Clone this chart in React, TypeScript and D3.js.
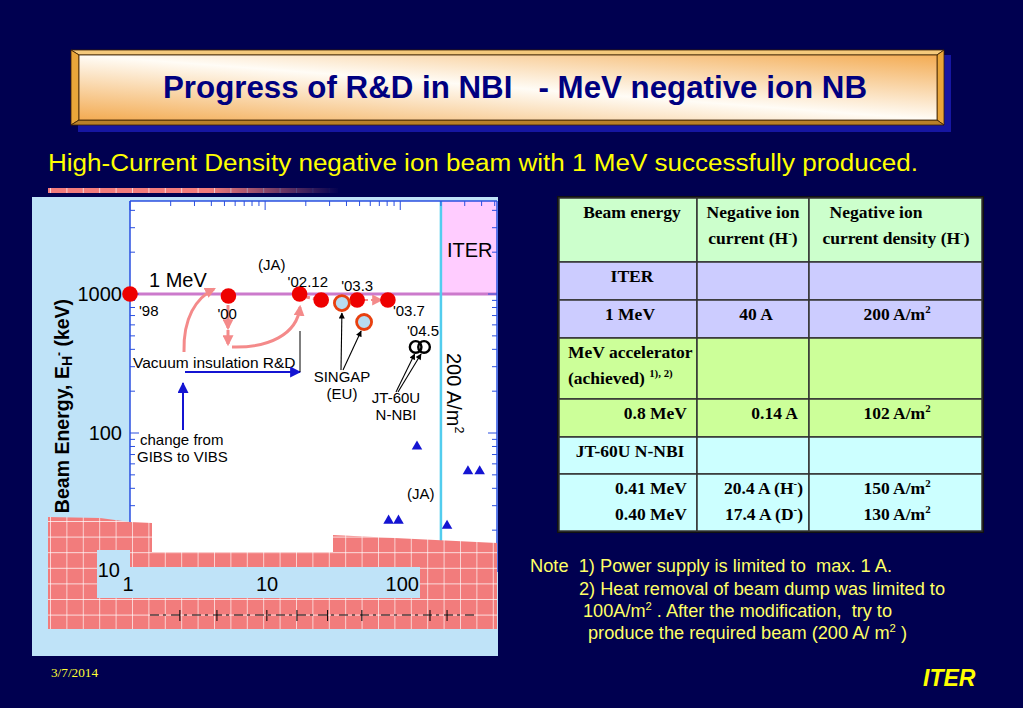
import * as d3 from "d3";
import React from "react";

// beam energy (keV) vs negative ion current density (A/m2)
const mevLabels = ["'98", "'00", "'02.12", "", "'03.3", "'03.7"];
const mevDensity = [1, 5.35, 18, 26, 48, 81];
const mevEnergy = [1000, 967, 1000, 905, 905, 905];
const singapDensity = [37, 54];
const singapEnergy = [861, 629];
const jt60Density = [130, 150];
const jt60Energy = [416, 416];
const otherDensity = [133, 317, 387, 82, 97, 222];
const otherEnergy = [80, 53, 53, 23.4, 23.4, 21.5];
const iterDensity = 200;
const iterEnergy = 1000;
const xTickLabels = [1, 10, 100];
const yTickLabels = [100, 1000];
const brokenAxisTicks = [2.34, 4.4, 10.3, 17.2, 29, 52, 166, 222];

// table
const tableHead = ["Beam energy", "Negative ion\ncurrent (H^{-})", "Negative ion\ncurrent density (H^{-})"];
const tableEnergy = ["ITER", "1 MeV", "MeV accelerator\n(achieved) ^{1), 2)}", "0.8 MeV", "JT-60U N-NBI", "0.41 MeV\n0.40 MeV"];
const tableCurrent = ["", "40 A", "", "0.14 A", "", "20.4 A (H^{-})\n17.4 A (D^{-})"];
const tableDensity = ["", "200 A/m^{2}", "", "102 A/m^{2}", "", "150 A/m^{2}\n130 A/m^{2}"];
const tableGroup = ["iter", "iter", "mev", "mev", "jt", "jt"];

const notes = [
  "Note  1) Power supply is limited to  max. 1 A.",
  "2) Heat removal of beam dump was limited to",
  "100A/m^{2} . After the modification,  try to",
  "produce the required beam (200 A/ m^{2} )",
];

const NAVY = "#000050";
const SALMON = "#f48a8a";

function Rich({ s, size }: { s: string; size: number }) {
  const parts = s.split(/(\^\{[^}]*\})/).filter((p) => p.length);
  let prevSup = false;
  return (
    <>
      {parts.map((p, i) => {
        if (p.startsWith("^{")) {
          prevSup = true;
          return (
            <tspan key={i} fontSize={size * 0.62} dy={-size * 0.38}>
              {p.slice(2, -1)}
            </tspan>
          );
        }
        const dy = prevSup ? size * 0.38 : 0;
        prevSup = false;
        return (
          <tspan key={i} dy={dy}>
            {p}
          </tspan>
        );
      })}
    </>
  );
}

export default function App() {
  const x = d3.scaleLog().domain([1, 520]).range([130, 497]);
  const y = d3.scaleLog().domain([10, 4670]).range([572, 201]);
  const [px0, px1] = x.range();
  const [pyB, pyT] = y.range();
  const isMajor = (v: number) => Math.abs(Math.log10(v) - Math.round(Math.log10(v))) < 1e-6;
  const yTicks = y.ticks();
  const xTicks = x.ticks();

  // table layout
  const rowEdges = [198, 262, 300, 338, 399, 437, 474, 531];
  const colEdges = [559, 697, 809, 982];
  const groupFill: Record<string, string> = { iter: "#ccccff", mev: "#ccff99", jt: "#ccffff" };
  const align: [string, number][][] = [
    [["middle", 632], ["middle", 753], ["middle", 896]],
    [["middle", 632], ["middle", 753], ["middle", 896]],
    [["middle", 630], ["middle", 756], ["middle", 897]],
    [["start", 568], ["middle", 753], ["middle", 896]],
    [["end", 687], ["end", 798], ["middle", 897]],
    [["middle", 630], ["middle", 753], ["middle", 896]],
    [["end", 687], ["end", 803], ["middle", 897]],
  ];
  const tableRows = [tableHead, ...tableEnergy.map((e, i) => [e, tableCurrent[i], tableDensity[i]])];
  const fs = 17.5;

  const labelOffsets: [number, number, string][] = [
    [9, 22, "start"],
    [-11, 23, "start"],
    [-12, -7, "start"],
    [0, 0, "start"],
    [0, -9, "middle"],
    [5, 16, "start"],
  ];

  const noteX = [530, 579, 583, 588];
  const noteY = [572, 595, 617, 639];
  const noteW = [362, 366, 309, 319];

  const tri = d3.symbol(d3.symbolTriangle, 48)();

  return (
    <svg width={1023} height={708} style={{ position: "absolute", left: 0, top: 0, display: "block" }}
      fontFamily="'Liberation Sans', Arial, sans-serif">
      <defs>
        <linearGradient id="titleFill" x1="0" y1="1" x2="1" y2="0">
          <stop offset="0" stopColor="#f3ab52" />
          <stop offset="0.5" stopColor="#fffcf6" />
          <stop offset="1" stopColor="#f3ab52" />
        </linearGradient>
        <linearGradient id="stripFade" x1="0" y1="0" x2="1" y2="0">
          <stop offset="0.55" stopColor={NAVY} stopOpacity="0" />
          <stop offset="1" stopColor={NAVY} stopOpacity="1" />
        </linearGradient>
        <pattern id="tiles" patternUnits="userSpaceOnUse" x={50} y={521} width={16.4} height={15.6}>
          <rect width={16.4} height={15.6} fill="#f27c7c" />
          <path d="M0,0H16.4M0,0V15.6" stroke="#fff" strokeWidth={1.3} />
        </pattern>
        <marker id="arrSalmon" viewBox="0 0 10 10" refX="8" refY="5" markerWidth="11" markerHeight="11"
          markerUnits="userSpaceOnUse" orient="auto">
          <path d="M0,0L10,5L0,10z" fill={SALMON} />
        </marker>
        <marker id="arrBlue" viewBox="0 0 10 10" refX="9" refY="5" markerWidth="13" markerHeight="11"
          markerUnits="userSpaceOnUse" orient="auto">
          <path d="M0,0L10,5L0,10z" fill="#1414d2" />
        </marker>
        <marker id="arrBlack" viewBox="0 0 10 10" refX="9" refY="5" markerWidth="7" markerHeight="6"
          markerUnits="userSpaceOnUse" orient="auto">
          <path d="M0,0L10,5L0,10z" fill="#000" />
        </marker>
      </defs>

      <rect width={1023} height={708} fill={NAVY} />

      {/* title box */}
      <rect x={78} y={55} width={873} height={77} fill="#1616a2" />
      <polygon points="71,50 944,50 937,55 79,55" fill="#f4c97c" stroke="#3a2000" strokeWidth={0.8} />
      <polygon points="71,50 79,55 79,120 71,125" fill="#e9a63a" stroke="#3a2000" strokeWidth={0.8} />
      <polygon points="944,50 944,125 937,120 937,55" fill="#e9a63a" stroke="#3a2000" strokeWidth={0.8} />
      <polygon points="71,125 944,125 937,120 79,120" fill="#b8802a" stroke="#3a2000" strokeWidth={0.8} />
      <rect x={79} y={55} width={858} height={65} fill="url(#titleFill)" stroke="#3a2000" strokeWidth={0.8} />
      <text x={163} y={98} fontSize={32} fontWeight="bold" fill="#000080" textLength={704}
        lengthAdjust="spacingAndGlyphs" style={{ whiteSpace: "pre" }}>
        {"Progress of R&D in NBI   - MeV negative ion NB"}
      </text>

      <text x={48} y={171} fontSize={23} fill="#ffff00" textLength={870} lengthAdjust="spacingAndGlyphs">
        High-Current Density negative ion beam with 1 MeV successfully produced.
      </text>

      {/* faded tile strip above the chart */}
      <rect x={48} y={188} width={290} height={5} fill="url(#tiles)" />
      <rect x={48} y={187} width={292} height={7} fill="url(#stripFade)" />

      {/* chart panel */}
      <rect x={32} y={197} width={466} height={459} fill="#bfe3f8" />
      <rect x={px0} y={pyT} width={px1 - px0} height={pyB - pyT} fill="#fff" />
      <rect x={x(iterDensity)} y={pyT} width={px1 - x(iterDensity)} height={y(iterEnergy) - pyT} fill="#ffccff" />
      <line x1={px0} x2={px1} y1={y(iterEnergy)} y2={y(iterEnergy)} stroke="#cc7acc" strokeWidth={3} />
      <line x1={x(iterDensity)} x2={x(iterDensity)} y1={pyT} y2={pyB} stroke="#52cdee" strokeWidth={2.5} />

      {/* ticks */}
      {yTicks.map((t) => {
        const L = isMajor(t) ? 9 : 5;
        return (
          <g key={"y" + t} stroke="#2a4fe0" strokeWidth={1}>
            <line x1={px0} x2={px0 + L} y1={y(t)} y2={y(t)} />
            <line x1={px1} x2={px1 - L} y1={y(t)} y2={y(t)} />
          </g>
        );
      })}
      {xTicks.map((t) => (
        <line key={"x" + t} x1={x(t)} x2={x(t)} y1={pyT} y2={pyT + (isMajor(t) ? 9 : 5)} stroke="#2a4fe0" />
      ))}
      <line x1={px0} x2={px0} y1={pyT} y2={pyB} stroke="#2a4fe0" strokeWidth={1.5} />
      <line x1={px1} x2={px1} y1={pyT} y2={pyB} stroke="#2a4fe0" strokeWidth={1.5} />
      <line x1={px0} x2={px1} y1={pyT} y2={pyT} stroke="#2a4fe0" strokeWidth={1.5} />

      {yTickLabels.map((t) => (
        <text key={t} x={122} y={y(t) + 7} fontSize={20} textAnchor="end">{t}</text>
      ))}

      <text transform="translate(69,406) rotate(-90)" fontSize={19.5} fontWeight="bold" textAnchor="middle">
        <tspan>Beam Energy, E</tspan>
        <tspan fontSize={14} dy={3}>H</tspan>
        <tspan fontSize={12} dy={-9}>-</tspan>
        <tspan dy={6}> (keV)</tspan>
      </text>

      {/* annotations */}
      <text x={149} y={287} fontSize={20}>1 MeV</text>
      <text x={258} y={270} fontSize={15}>(JA)</text>
      <text x={x(iterDensity) + 6} y={257} fontSize={20}>ITER</text>
      <text transform={`translate(${x(iterDensity) + 6},353) rotate(90)`} fontSize={20}>
        <Rich s="200 A/m^{2}" size={20} />
      </text>
      <text x={133} y={368} fontSize={15.5}>Vacuum insulation R&amp;D</text>
      <text x={140} y={445} fontSize={15}>change from</text>
      <text x={137} y={462} fontSize={15}>GIBS to VIBS</text>
      <text x={342} y={382} fontSize={15} textAnchor="middle">SINGAP</text>
      <text x={342} y={399} fontSize={15} textAnchor="middle">(EU)</text>
      <text x={396} y={403} fontSize={15} textAnchor="middle">JT-60U</text>
      <text x={396} y={420} fontSize={15} textAnchor="middle">N-NBI</text>
      <text x={407} y={499} fontSize={15}>(JA)</text>
      <text x={423} y={y(jt60Energy[0]) - 11} fontSize={15} textAnchor="middle">'04.5</text>

      {/* arrows */}
      <g fill="none" stroke={SALMON} strokeWidth={3}>
        <path d="M184,352 C183,318 196,298 214,289" markerEnd="url(#arrSalmon)" />
        <path d="M228,305 L228,328" markerEnd="url(#arrSalmon)" />
        <path d="M228,330 L228,344" markerEnd="url(#arrSalmon)" />
        <path d="M232,347 C268,348 297,335 300,307" markerEnd="url(#arrSalmon)" />
        <path d="M306,297 L316,299" strokeDasharray="4 3" />
        <path d="M363,300 L381,300" strokeDasharray="5 3" markerEnd="url(#arrSalmon)" strokeWidth={2} />
      </g>
      <line x1={185} x2={300} y1={372} y2={372} stroke="#1414d2" strokeWidth={2} markerEnd="url(#arrBlue)" />
      <line x1={183} x2={183} y1={430} y2={383} stroke="#1414d2" strokeWidth={2} markerEnd="url(#arrBlue)" />
      <line x1={300} x2={300} y1={331} y2={372} stroke="#000" strokeWidth={1} />
      <g stroke="#000" strokeWidth={1.1}>
        <line x1={341} y1={370} x2={x(singapDensity[0])} y2={y(singapEnergy[0]) + 10} markerEnd="url(#arrBlack)" />
        <line x1={343} y1={370} x2={x(singapDensity[1]) - 3} y2={y(singapEnergy[1]) + 9} markerEnd="url(#arrBlack)" />
        <line x1={396} y1={392} x2={x(jt60Density[0]) - 1} y2={y(jt60Energy[0]) + 7} markerEnd="url(#arrBlack)" />
        <line x1={398} y1={392} x2={x(jt60Density[1]) - 3} y2={y(jt60Energy[1]) + 7} markerEnd="url(#arrBlack)" />
      </g>

      {/* markers */}
      {mevDensity.map((d, i) => (
        <circle key={"m" + i} cx={x(d)} cy={y(mevEnergy[i])} r={7.8} fill="#ee0000" />
      ))}
      {mevLabels.map((l, i) =>
        l ? (
          <text key={"l" + i} x={x(mevDensity[i]) + labelOffsets[i][0]} y={y(mevEnergy[i]) + labelOffsets[i][1]}
            fontSize={15} textAnchor={labelOffsets[i][2]}>{l}</text>
        ) : null
      )}
      {singapDensity.map((d, i) => (
        <circle key={"s" + i} cx={x(d)} cy={y(singapEnergy[i])} r={7.5} fill="#b8dcf0" stroke="#e8400f" strokeWidth={2.8} />
      ))}
      {jt60Density.map((d, i) => (
        <circle key={"j" + i} cx={x(d)} cy={y(jt60Energy[i])} r={5.8} fill="none" stroke="#000" strokeWidth={2.4} />
      ))}
      {otherDensity.map((d, i) => (
        <path key={"t" + i} d={tri!} transform={`translate(${x(d)},${y(otherEnergy[i])})`} fill="#1414d2" />
      ))}

      {/* broken tile overlay */}
      <polygon points="48,517 100,518 130,522 152,523 152,552 333,552 333,535 497,543 497,629 48,629" fill="url(#tiles)" />
      <polygon points="97,550 130,550 130,567 420,567 420,598 97,598" fill="#bfe3f8" />
      <line x1={150} x2={477} y1={615} y2={615} stroke="#000" strokeWidth={1} strokeDasharray="9 4 3 5" />
      {brokenAxisTicks.map((t) => (
        <line key={"b" + t} x1={x(t)} x2={x(t)} y1={610} y2={621} stroke="#000" strokeWidth={1} />
      ))}
      <text x={120} y={577} fontSize={20} textAnchor="end">10</text>
      {xTickLabels.map((t) => (
        <text key={"xl" + t} x={x(t) - (t === 1 ? 2 : -2)} y={591} fontSize={20} textAnchor="middle">{t}</text>
      ))}

      {/* table */}
      <rect x={colEdges[0] - 2} y={rowEdges[0] - 2} width={colEdges[3] - colEdges[0] + 4}
        height={rowEdges[7] - rowEdges[0] + 4} fill="#111" />
      {tableRows.map((row, r) => {
        const top = rowEdges[r];
        const h = rowEdges[r + 1] - top;
        const fill = r === 0 ? "#ccffcc" : groupFill[tableGroup[r - 1]];
        return (
          <g key={"r" + r}>
            {row.map((cell, c) => (
              <rect key={c} x={colEdges[c]} y={top} width={colEdges[c + 1] - colEdges[c]} height={h}
                fill={fill} stroke="#333" strokeWidth={1.5} />
            ))}
          </g>
        );
      })}
      {tableRows.map((row, r) =>
        row.map((cell, c) => {
          const [anchor, cx] = align[r][c];
          return cell
            .split("\n")
            .filter((s) => s.length)
            .map((line, k) => (
              <text key={`c${r}-${c}-${k}`} x={r === 0 && c === 2 && k === 0 ? 876 : cx} y={rowEdges[r] + 20 + k * 26}
                fontSize={fs} fontWeight="bold" textAnchor={anchor} fontFamily="'Liberation Serif', 'Times New Roman', serif">
                <Rich s={line} size={fs} />
              </text>
            ));
        })
      )}

      {/* notes */}
      {notes.map((n, i) => (
        <text key={"n" + i} x={noteX[i]} y={noteY[i]} fontSize={17.5} fill="#ffff66" textLength={noteW[i]}
          lengthAdjust="spacingAndGlyphs" style={{ whiteSpace: "pre" }}>
          <Rich s={n} size={17.5} />
        </text>
      ))}

      {/* footer */}
      <text x={51} y={677} fontSize={13} fill="#ffff33" fontFamily="'Liberation Serif', serif" textLength={47}
        lengthAdjust="spacingAndGlyphs">3/7/2014</text>
      <text x={923} y={686} fontSize={23} fontWeight="bold" fontStyle="italic" fill="#ffff00">ITER</text>
    </svg>
  );
}
